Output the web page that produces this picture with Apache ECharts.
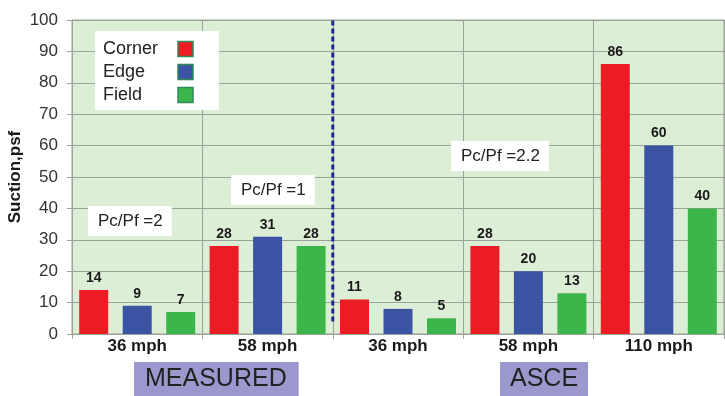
<!DOCTYPE html>
<html><head><meta charset="utf-8">
<script src="https://cdn.jsdelivr.net/npm/echarts@6/dist/echarts.min.js"></script>
<style>html,body{margin:0;padding:0;background:#fff}#c{width:725px;height:396px}</style>
</head><body><div id="c"></div>
<script>
const categories = ['36 mph', '58 mph', '36 mph', '58 mph', '110 mph'];
const corner = [14, 28, 11, 28, 86];
const edge = [9, 31, 8, 20, 60];
const field = [7, 28, 5, 13, 40];
const dividerLine = [[2, 4], [2, 100]];
const yTicks = { min: 0, max: 100, interval: 10 };

const FF = '"Liberation Sans", Arial, sans-serif';
const chart = echarts.init(document.getElementById('c'));
const lbl = { show: true, position: 'top', distance: 5, fontFamily: FF, fontWeight: 'bold', fontSize: 14, color: '#1a1a1a' };
function bar(name, data, color) {
  return { name, type: 'bar', data, xAxisIndex: 0, barWidth: 29, barGap: '50%',
    itemStyle: { color }, label: lbl, emphasis: { disabled: true } };
}
const ann = (text, left, top) => ({
  type: 'text', left, top, z: 100,
  style: { text, font: '17px ' + FF, fill: '#222', backgroundColor: '#fff', padding: [7, 9, 6, 10] }
});
const legendItem = name => ({ name, icon: 'rect', itemStyle: { borderColor: '#2c8a5a', borderWidth: 1.5 } });

chart.setOption({
  animation: false,
  grid: { left: 72, right: 1, top: 20, bottom: 62, outerBoundsMode: 'none', containLabel: false,
    show: true, backgroundColor: '#ddeed6', borderColor: '#9aa39a', borderWidth: 1 },
  legend: {
    orient: 'vertical', left: 95, top: 31, align: 'right',
    backgroundColor: '#fff', padding: [9, 25, 6, 8], itemGap: 5,
    itemWidth: 15, itemHeight: 15,
    formatter: '{t|{name}}',
    textStyle: { fontFamily: FF, fontSize: 18, color: '#222',
      rich: { t: { width: 70, align: 'left', fontFamily: FF, fontSize: 18, color: '#222' } } },
    data: [legendItem('Corner'), legendItem('Edge'), legendItem('Field')]
  },
  xAxis: [
    { type: 'category', data: categories,
      axisLine: { lineStyle: { color: '#9aa39a' } },
      axisTick: { show: true, length: 5, lineStyle: { color: '#9aa39a' } },
      splitLine: { show: true, lineStyle: { color: '#9aa39a' } },
      axisLabel: { fontFamily: FF, fontWeight: 'bold', fontSize: 17, color: '#1a1a1a', margin: 4 } },
    { type: 'value', min: 0, max: 5, show: false }
  ],
  yAxis: {
    type: 'value', min: yTicks.min, max: yTicks.max, interval: yTicks.interval,
    name: 'Suction,psf', nameLocation: 'middle', nameGap: 48, nameMoveOverlap: false,
    nameTextStyle: { fontFamily: FF, fontWeight: 'bold', fontSize: 17, color: '#1a1a1a' },
    axisLine: { show: true, lineStyle: { color: '#9aa39a' } },
    axisTick: { show: true, length: 5, lineStyle: { color: '#9aa39a' } },
    splitLine: { lineStyle: { color: '#9aa39a' } },
    axisLabel: { fontFamily: FF, fontSize: 17, color: '#333', margin: 14 }
  },
  series: [
    bar('Corner', corner, '#ec1c24'),
    bar('Edge', edge, '#3a53a3'),
    bar('Field', field, '#3cb54a'),
    { type: 'line', xAxisIndex: 1, yAxisIndex: 0, data: dividerLine, symbol: 'none', silent: true,
      lineStyle: { color: '#1f2a86', width: 3, type: [5, 3] }, z: 5 }
  ],
  graphic: [
    ann('Pc/Pf =2', 88, 206),
    ann('Pc/Pf =1', 231, 175),
    ann('Pc/Pf =2.2', 451, 141),
    { type: 'text', left: 134, top: 362, z: 100,
      style: { text: 'MEASURED', font: '25px ' + FF, fill: '#222', backgroundColor: '#9b98cd', padding: [5, 12, 6, 11] } },
    { type: 'text', left: 500, top: 362, z: 100,
      style: { text: 'ASCE', font: '25px ' + FF, fill: '#222', backgroundColor: '#9b98cd', padding: [5, 10, 6, 10] } }
  ]
});
</script></body></html>
